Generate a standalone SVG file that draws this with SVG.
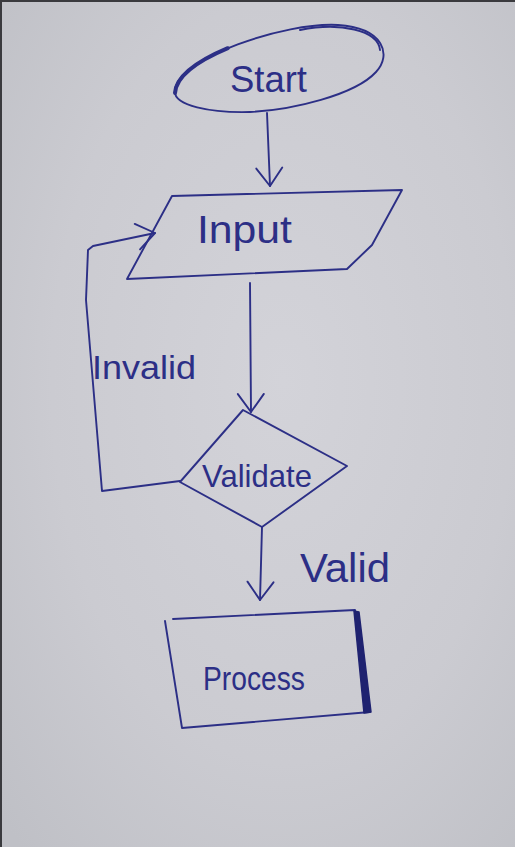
<svg xmlns="http://www.w3.org/2000/svg" width="515" height="847" viewBox="0 0 515 847">
  <defs>
    <radialGradient id="paper" cx="0.55" cy="0.45" r="0.75">
      <stop offset="0" stop-color="#d3d3d9"/>
      <stop offset="0.6" stop-color="#cbcbd1"/>
      <stop offset="1" stop-color="#bfc0c6"/>
    </radialGradient>
    <marker id="vee" viewBox="-20 -15 24 30" markerWidth="24" markerHeight="30" refX="0" refY="0" orient="auto" markerUnits="userSpaceOnUse">
      <path d="M-18,-13 L0,0 L-18,13" fill="none" stroke="#2c2f86" stroke-width="1.9" stroke-linecap="round" stroke-linejoin="round"/>
    </marker>
  </defs>
  <style>
    .ink { fill: none; stroke: #2c2f86; stroke-width: 1.9; stroke-linecap: round; stroke-linejoin: round; }
    .thick { stroke-width: 4; }
    .txt { font-family: "Liberation Sans", "DejaVu Sans", sans-serif; fill: #2c2f86; text-anchor: start; }
  </style>
  <rect x="0" y="0" width="515" height="847" fill="url(#paper)"/>
  <rect x="0" y="0" width="515" height="2" fill="#3a3a3e"/>
  <rect x="0" y="0" width="2" height="847" fill="#3a3a3e"/>

  <g id="connectors">
    <path class="ink" d="M267,113 L270,186" marker-end="url(#vee)"/>
    <path class="ink" d="M250,283 L251,412" marker-end="url(#vee)"/>
    <path class="ink" d="M262,527 L260,600" marker-end="url(#vee)"/>
    <path class="ink" d="M180,481 L102,491 L86,300 L88,250 L93,246 L155,233" marker-end="url(#vee)"/>
    <text class="txt" x="92" y="379" font-size="34" textLength="104" lengthAdjust="spacingAndGlyphs">Invalid</text>
    <text class="txt" x="300" y="582" font-size="40" textLength="90" lengthAdjust="spacingAndGlyphs">Valid</text>
  </g>

  <g id="start">
    <path class="ink" d="M175,90 C178,58 285,22 338,25 C384,28 392,55 376,72 C355,95 292,110 250,112 C212,113 172,106 175,90 Z"/>
    <path class="ink" d="M300,30 C340,22 378,30 380,50"/>
    <path class="ink thick" d="M175,93 C176.35,75.6 198.8,60.4 227.8,48.2"/>
    <text class="txt" x="230" y="92" font-size="36" textLength="77" lengthAdjust="spacingAndGlyphs">Start</text>
  </g>

  <g id="input">
    <path class="ink" d="M172,196 L402,190 L372,245 L347,269 L127,279 Z"/>
    <text class="txt" x="197" y="243" font-size="38" textLength="95" lengthAdjust="spacingAndGlyphs">Input</text>
  </g>

  <g id="validate">
    <path class="ink" d="M243,410 L347,466 L262,527 L180,482 Z"/>
    <text class="txt" x="202" y="487" font-size="32" textLength="110" lengthAdjust="spacingAndGlyphs">Validate</text>
  </g>

  <g id="process">
    <path class="ink" d="M173,619 L355,610 L370,712 L182,728 L165,621"/>
    <path fill="#1f2270" stroke="#1f2270" stroke-width="1.5" stroke-linejoin="round" d="M354,611 L359,612 L371,712 L364,713 Z"/>
    <text class="txt" x="203" y="690" font-size="33" textLength="102" lengthAdjust="spacingAndGlyphs">Process</text>
  </g>
</svg>
